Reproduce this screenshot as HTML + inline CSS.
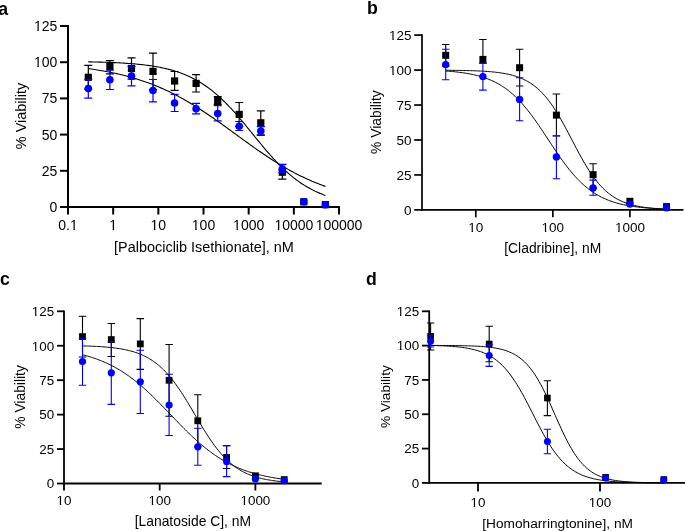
<!DOCTYPE html>
<html><head><meta charset="utf-8"><style>
html,body{margin:0;padding:0;background:#fff;width:685px;height:531px;overflow:hidden}
svg{display:block;will-change:transform}
text{font-family:"Liberation Sans",sans-serif;fill:#000}
</style></head><body>
<svg width="685" height="531" viewBox="0 0 685 531">
<g><path d="M68 25V208" stroke="#000" stroke-width="2.0"/>
<path d="M67 207H339.9" stroke="#000" stroke-width="2.0"/>
<path d="M60 207H68" stroke="#000" stroke-width="2.0"/>
<text x="57.3" y="212.04" text-anchor="end" font-size="14">0</text>
<path d="M60 170.8H68" stroke="#000" stroke-width="2.0"/>
<text x="57.3" y="175.84" text-anchor="end" font-size="14">25</text>
<path d="M60 134.6H68" stroke="#000" stroke-width="2.0"/>
<text x="57.3" y="139.64" text-anchor="end" font-size="14">50</text>
<path d="M60 98.4H68" stroke="#000" stroke-width="2.0"/>
<text x="57.3" y="103.44" text-anchor="end" font-size="14">75</text>
<path d="M60 62.2H68" stroke="#000" stroke-width="2.0"/>
<text x="57.3" y="67.24" text-anchor="end" font-size="14">100</text>
<rect x="34.16" y="65.98" width="3.22" height="2.16" fill="#fff"/>
<rect x="38.79" y="65.98" width="3.07" height="2.16" fill="#fff"/>
<path d="M60 26H68" stroke="#000" stroke-width="2.0"/>
<text x="57.3" y="31.04" text-anchor="end" font-size="14">125</text>
<rect x="34.16" y="29.78" width="3.22" height="2.16" fill="#fff"/>
<rect x="38.79" y="29.78" width="3.07" height="2.16" fill="#fff"/>
<path d="M68 207V214.5" stroke="#000" stroke-width="2.0"/>
<text x="68" y="230" text-anchor="middle" font-size="14">0.1</text>
<rect x="70.16" y="228.74" width="3.22" height="2.16" fill="#fff"/>
<rect x="74.79" y="228.74" width="3.07" height="2.16" fill="#fff"/>
<path d="M113.17 207V214.5" stroke="#000" stroke-width="2.0"/>
<text x="113.17" y="230" text-anchor="middle" font-size="14">1</text>
<rect x="109.49" y="228.74" width="3.22" height="2.16" fill="#fff"/>
<rect x="114.12" y="228.74" width="3.07" height="2.16" fill="#fff"/>
<path d="M158.34 207V214.5" stroke="#000" stroke-width="2.0"/>
<text x="158.34" y="230" text-anchor="middle" font-size="14">10</text>
<rect x="150.77" y="228.74" width="3.22" height="2.16" fill="#fff"/>
<rect x="155.40" y="228.74" width="3.07" height="2.16" fill="#fff"/>
<path d="M203.51 207V214.5" stroke="#000" stroke-width="2.0"/>
<text x="203.51" y="230" text-anchor="middle" font-size="14">100</text>
<rect x="192.04" y="228.74" width="3.22" height="2.16" fill="#fff"/>
<rect x="196.68" y="228.74" width="3.07" height="2.16" fill="#fff"/>
<path d="M248.68 207V214.5" stroke="#000" stroke-width="2.0"/>
<text x="248.68" y="230" text-anchor="middle" font-size="14">1000</text>
<rect x="233.32" y="228.74" width="3.22" height="2.16" fill="#fff"/>
<rect x="237.96" y="228.74" width="3.07" height="2.16" fill="#fff"/>
<path d="M293.85 207V214.5" stroke="#000" stroke-width="2.0"/>
<text x="293.85" y="230" text-anchor="middle" font-size="14">10000</text>
<rect x="274.60" y="228.74" width="3.22" height="2.16" fill="#fff"/>
<rect x="279.23" y="228.74" width="3.07" height="2.16" fill="#fff"/>
<path d="M339.02 207V214.5" stroke="#000" stroke-width="2.0"/>
<text x="339.02" y="230" text-anchor="middle" font-size="14">100000</text>
<rect x="315.88" y="228.74" width="3.22" height="2.16" fill="#fff"/>
<rect x="320.51" y="228.74" width="3.07" height="2.16" fill="#fff"/>
<path d="M88.3 61.85 L89.79 61.88 L91.28 61.91 L92.77 61.94 L94.26 61.97 L95.76 62.01 L97.25 62.05 L98.74 62.08 L100.23 62.12 L101.72 62.17 L103.21 62.21 L104.7 62.26 L106.19 62.31 L107.69 62.36 L109.18 62.42 L110.67 62.48 L112.16 62.54 L113.65 62.6 L115.14 62.67 L116.63 62.74 L118.12 62.81 L119.62 62.89 L121.11 62.97 L122.6 63.06 L124.09 63.15 L125.58 63.24 L127.07 63.34 L128.56 63.45 L130.05 63.55 L131.54 63.67 L133.04 63.79 L134.53 63.92 L136.02 64.05 L137.51 64.19 L139 64.34 L140.49 64.49 L141.98 64.65 L143.47 64.82 L144.97 65 L146.46 65.19 L147.95 65.38 L149.44 65.59 L150.93 65.8 L152.42 66.03 L153.91 66.27 L155.4 66.52 L156.89 66.78 L158.39 67.05 L159.88 67.33 L161.37 67.63 L162.86 67.94 L164.35 68.27 L165.84 68.61 L167.33 68.97 L168.82 69.35 L170.32 69.74 L171.81 70.15 L173.3 70.58 L174.79 71.03 L176.28 71.5 L177.77 71.99 L179.26 72.5 L180.75 73.03 L182.25 73.58 L183.74 74.16 L185.23 74.77 L186.72 75.4 L188.21 76.05 L189.7 76.73 L191.19 77.44 L192.68 78.18 L194.17 78.95 L195.67 79.75 L197.16 80.57 L198.65 81.43 L200.14 82.32 L201.63 83.25 L203.12 84.2 L204.61 85.19 L206.1 86.22 L207.6 87.28 L209.09 88.37 L210.58 89.5 L212.07 90.66 L213.56 91.86 L215.05 93.1 L216.54 94.37 L218.03 95.67 L219.53 97.02 L221.02 98.39 L222.51 99.8 L224 101.25 L225.49 102.73 L226.98 104.24 L228.47 105.78 L229.96 107.35 L231.45 108.95 L232.95 110.58 L234.44 112.24 L235.93 113.92 L237.42 115.63 L238.91 117.36 L240.4 119.1 L241.89 120.87 L243.38 122.65 L244.88 124.45 L246.37 126.26 L247.86 128.08 L249.35 129.9 L250.84 131.74 L252.33 133.57 L253.82 135.41 L255.31 137.24 L256.81 139.07 L258.3 140.9 L259.79 142.71 L261.28 144.52 L262.77 146.31 L264.26 148.08 L265.75 149.84 L267.24 151.58 L268.73 153.3 L270.23 155 L271.72 156.67 L273.21 158.32 L274.7 159.94 L276.19 161.53 L277.68 163.09 L279.17 164.62 L280.66 166.12 L282.16 167.59 L283.65 169.02 L285.14 170.42 L286.63 171.78 L288.12 173.11 L289.61 174.4 L291.1 175.66 L292.59 176.88 L294.08 178.07 L295.58 179.22 L297.07 180.34 L298.56 181.42 L300.05 182.46 L301.54 183.47 L303.03 184.45 L304.52 185.39 L306.01 186.3 L307.51 187.18 L309 188.03 L310.49 188.85 L311.98 189.63 L313.47 190.39 L314.96 191.12 L316.45 191.82 L317.94 192.49 L319.44 193.13 L320.93 193.75 L322.42 194.35 L323.91 194.92 L325.4 195.46" fill="none" stroke="#000" stroke-width="1.1"/>
<path d="M88.3 68.62 L89.79 68.82 L91.28 69.04 L92.77 69.25 L94.26 69.48 L95.76 69.71 L97.25 69.94 L98.74 70.19 L100.23 70.43 L101.72 70.69 L103.21 70.95 L104.7 71.22 L106.19 71.5 L107.69 71.78 L109.18 72.07 L110.67 72.37 L112.16 72.68 L113.65 72.99 L115.14 73.31 L116.63 73.64 L118.12 73.98 L119.62 74.33 L121.11 74.68 L122.6 75.05 L124.09 75.42 L125.58 75.8 L127.07 76.2 L128.56 76.6 L130.05 77.01 L131.54 77.43 L133.04 77.86 L134.53 78.3 L136.02 78.75 L137.51 79.21 L139 79.69 L140.49 80.17 L141.98 80.66 L143.47 81.17 L144.97 81.68 L146.46 82.21 L147.95 82.75 L149.44 83.3 L150.93 83.86 L152.42 84.44 L153.91 85.02 L155.4 85.62 L156.89 86.23 L158.39 86.85 L159.88 87.49 L161.37 88.13 L162.86 88.79 L164.35 89.46 L165.84 90.15 L167.33 90.84 L168.82 91.55 L170.32 92.28 L171.81 93.01 L173.3 93.76 L174.79 94.52 L176.28 95.29 L177.77 96.07 L179.26 96.87 L180.75 97.68 L182.25 98.5 L183.74 99.33 L185.23 100.18 L186.72 101.04 L188.21 101.91 L189.7 102.79 L191.19 103.68 L192.68 104.58 L194.17 105.5 L195.67 106.42 L197.16 107.36 L198.65 108.31 L200.14 109.27 L201.63 110.23 L203.12 111.21 L204.61 112.2 L206.1 113.19 L207.6 114.19 L209.09 115.21 L210.58 116.23 L212.07 117.25 L213.56 118.29 L215.05 119.33 L216.54 120.38 L218.03 121.43 L219.53 122.49 L221.02 123.56 L222.51 124.63 L224 125.7 L225.49 126.78 L226.98 127.86 L228.47 128.94 L229.96 130.03 L231.45 131.12 L232.95 132.21 L234.44 133.3 L235.93 134.39 L237.42 135.48 L238.91 136.57 L240.4 137.66 L241.89 138.74 L243.38 139.83 L244.88 140.91 L246.37 141.99 L247.86 143.07 L249.35 144.14 L250.84 145.21 L252.33 146.27 L253.82 147.33 L255.31 148.38 L256.81 149.43 L258.3 150.47 L259.79 151.5 L261.28 152.53 L262.77 153.55 L264.26 154.56 L265.75 155.56 L267.24 156.55 L268.73 157.53 L270.23 158.51 L271.72 159.47 L273.21 160.43 L274.7 161.37 L276.19 162.3 L277.68 163.23 L279.17 164.14 L280.66 165.04 L282.16 165.93 L283.65 166.81 L285.14 167.67 L286.63 168.53 L288.12 169.37 L289.61 170.2 L291.1 171.02 L292.59 171.82 L294.08 172.62 L295.58 173.4 L297.07 174.17 L298.56 174.92 L300.05 175.67 L301.54 176.4 L303.03 177.12 L304.52 177.82 L306.01 178.51 L307.51 179.2 L309 179.86 L310.49 180.52 L311.98 181.16 L313.47 181.79 L314.96 182.41 L316.45 183.02 L317.94 183.61 L319.44 184.2 L320.93 184.77 L322.42 185.32 L323.91 185.87 L325.4 186.41" fill="none" stroke="#000" stroke-width="1.1"/>
<path d="M88.3 65.4V89.2M84.3 65.4H92.3M84.3 89.2H92.3" stroke="#000" stroke-width="1.2" fill="none"/>
<path d="M109.9 60.7V73.9M105.9 60.7H113.9M105.9 73.9H113.9" stroke="#000" stroke-width="1.2" fill="none"/>
<path d="M131.5 57.8V79.2M127.5 57.8H135.5M127.5 79.2H135.5" stroke="#000" stroke-width="1.2" fill="none"/>
<path d="M153 53.2V89.6M149 53.2H157M149 89.6H157" stroke="#000" stroke-width="1.2" fill="none"/>
<path d="M174.6 71.5V90.3M170.6 71.5H178.6M170.6 90.3H178.6" stroke="#000" stroke-width="1.2" fill="none"/>
<path d="M196.1 74.6V92M192.1 74.6H200.1M192.1 92H200.1" stroke="#000" stroke-width="1.2" fill="none"/>
<path d="M217.7 96.6V104.4M213.7 96.6H221.7M213.7 104.4H221.7" stroke="#000" stroke-width="1.2" fill="none"/>
<path d="M239.2 102.5V126.3M235.2 102.5H243.2M235.2 126.3H243.2" stroke="#000" stroke-width="1.2" fill="none"/>
<path d="M260.8 110.8V134.8M256.8 110.8H264.8M256.8 134.8H264.8" stroke="#000" stroke-width="1.2" fill="none"/>
<path d="M282.3 164.4V179.2M278.3 164.4H286.3M278.3 179.2H286.3" stroke="#000" stroke-width="1.2" fill="none"/>
<rect x="84.7" y="73.7" width="7.2" height="7.2" fill="#000"/>
<rect x="106.3" y="63" width="7.2" height="7.2" fill="#000"/>
<rect x="127.9" y="64.9" width="7.2" height="7.2" fill="#000"/>
<rect x="149.4" y="67.8" width="7.2" height="7.2" fill="#000"/>
<rect x="171" y="77.4" width="7.2" height="7.2" fill="#000"/>
<rect x="192.5" y="79.8" width="7.2" height="7.2" fill="#000"/>
<rect x="214.1" y="96.9" width="7.2" height="7.2" fill="#000"/>
<rect x="235.6" y="110.8" width="7.2" height="7.2" fill="#000"/>
<rect x="257.2" y="119.2" width="7.2" height="7.2" fill="#000"/>
<rect x="278.7" y="168.6" width="7.2" height="7.2" fill="#000"/>
<rect x="300.2" y="198.2" width="7.2" height="7.2" fill="#000"/>
<rect x="321.8" y="201.1" width="7.2" height="7.2" fill="#000"/>
<path d="M88.3 79.3V98.1M84.3 79.3H92.3M84.3 98.1H92.3" stroke="#0000ff" stroke-width="1.2" fill="none"/>
<path d="M109.9 70.2V89.5M105.9 70.2H113.9M105.9 89.5H113.9" stroke="#0000ff" stroke-width="1.2" fill="none"/>
<path d="M131.5 66.3V85.8M127.5 66.3H135.5M127.5 85.8H135.5" stroke="#0000ff" stroke-width="1.2" fill="none"/>
<path d="M153 79.5V101.9M149 79.5H157M149 101.9H157" stroke="#0000ff" stroke-width="1.2" fill="none"/>
<path d="M174.6 94.4V111.5M170.6 94.4H178.6M170.6 111.5H178.6" stroke="#0000ff" stroke-width="1.2" fill="none"/>
<path d="M196.1 103.4V113.9M192.1 103.4H200.1M192.1 113.9H200.1" stroke="#0000ff" stroke-width="1.2" fill="none"/>
<path d="M217.7 105.6V120.8M213.7 105.6H221.7M213.7 120.8H221.7" stroke="#0000ff" stroke-width="1.2" fill="none"/>
<path d="M239.2 121.5V130.5M235.2 121.5H243.2M235.2 130.5H243.2" stroke="#0000ff" stroke-width="1.2" fill="none"/>
<path d="M260.8 126.6V135.3M256.8 126.6H264.8M256.8 135.3H264.8" stroke="#0000ff" stroke-width="1.2" fill="none"/>
<path d="M282.3 164.7V172.5M278.3 164.7H286.3M278.3 172.5H286.3" stroke="#0000ff" stroke-width="1.2" fill="none"/>
<circle cx="88.3" cy="88.5" r="3.8" fill="#0000ff"/>
<circle cx="109.9" cy="79.8" r="3.8" fill="#0000ff"/>
<circle cx="131.5" cy="76.1" r="3.8" fill="#0000ff"/>
<circle cx="153" cy="90.5" r="3.8" fill="#0000ff"/>
<circle cx="174.6" cy="103" r="3.8" fill="#0000ff"/>
<circle cx="196.1" cy="108.8" r="3.8" fill="#0000ff"/>
<circle cx="217.7" cy="113.6" r="3.8" fill="#0000ff"/>
<circle cx="239.2" cy="126.3" r="3.8" fill="#0000ff"/>
<circle cx="260.8" cy="131.1" r="3.8" fill="#0000ff"/>
<circle cx="282.3" cy="169" r="3.8" fill="#0000ff"/>
<circle cx="303.8" cy="201.8" r="3.8" fill="#0000ff"/>
<circle cx="325.4" cy="204.7" r="3.8" fill="#0000ff"/>
<text x="203.95" y="252" text-anchor="middle" font-size="14.45">[Palbociclib Isethionate], nM</text>
<text transform="translate(25.7 116) rotate(-90)" text-anchor="middle" font-size="14.45">% Viability</text>
<text x="-1.8" y="14.8" font-size="17.7" font-weight="bold">a</text></g>
<g><path d="M422 34.3V210.75" stroke="#000" stroke-width="1.7"/>
<path d="M421.15 209.9H683.5" stroke="#000" stroke-width="1.7"/>
<path d="M414.2 209.9H422" stroke="#000" stroke-width="1.7"/>
<text x="411.6" y="214.76" text-anchor="end" font-size="13.5">0</text>
<path d="M414.2 174.94H422" stroke="#000" stroke-width="1.7"/>
<text x="411.6" y="179.8" text-anchor="end" font-size="13.5">25</text>
<path d="M414.2 139.98H422" stroke="#000" stroke-width="1.7"/>
<text x="411.6" y="144.84" text-anchor="end" font-size="13.5">50</text>
<path d="M414.2 105.02H422" stroke="#000" stroke-width="1.7"/>
<text x="411.6" y="109.88" text-anchor="end" font-size="13.5">75</text>
<path d="M414.2 70.06H422" stroke="#000" stroke-width="1.7"/>
<text x="411.6" y="74.92" text-anchor="end" font-size="13.5">100</text>
<rect x="389.28" y="73.70" width="3.10" height="2.11" fill="#fff"/>
<rect x="393.75" y="73.70" width="2.96" height="2.11" fill="#fff"/>
<path d="M414.2 35.1H422" stroke="#000" stroke-width="1.7"/>
<text x="411.6" y="39.96" text-anchor="end" font-size="13.5">125</text>
<rect x="389.28" y="38.74" width="3.10" height="2.11" fill="#fff"/>
<rect x="393.75" y="38.74" width="2.96" height="2.11" fill="#fff"/>
<path d="M475.8 209.9V217.3" stroke="#000" stroke-width="1.7"/>
<text x="475.8" y="232.2" text-anchor="middle" font-size="13.5">10</text>
<rect x="468.50" y="230.98" width="3.10" height="2.11" fill="#fff"/>
<rect x="472.96" y="230.98" width="2.96" height="2.11" fill="#fff"/>
<path d="M552.85 209.9V217.3" stroke="#000" stroke-width="1.7"/>
<text x="552.85" y="232.2" text-anchor="middle" font-size="13.5">100</text>
<rect x="541.79" y="230.98" width="3.10" height="2.11" fill="#fff"/>
<rect x="546.26" y="230.98" width="2.96" height="2.11" fill="#fff"/>
<path d="M629.9 209.9V217.3" stroke="#000" stroke-width="1.7"/>
<text x="629.9" y="232.2" text-anchor="middle" font-size="13.5">1000</text>
<rect x="615.09" y="230.98" width="3.10" height="2.11" fill="#fff"/>
<rect x="619.56" y="230.98" width="2.96" height="2.11" fill="#fff"/>
<path d="M445.7 70.27 L447.09 70.28 L448.48 70.29 L449.87 70.3 L451.26 70.32 L452.65 70.33 L454.04 70.35 L455.43 70.37 L456.82 70.38 L458.21 70.4 L459.6 70.43 L460.99 70.45 L462.38 70.47 L463.77 70.5 L465.16 70.53 L466.55 70.56 L467.94 70.6 L469.33 70.63 L470.72 70.67 L472.11 70.71 L473.5 70.76 L474.89 70.81 L476.28 70.86 L477.67 70.92 L479.06 70.98 L480.45 71.05 L481.84 71.12 L483.23 71.2 L484.62 71.28 L486.01 71.37 L487.4 71.47 L488.79 71.58 L490.18 71.69 L491.57 71.81 L492.96 71.94 L494.35 72.08 L495.74 72.24 L497.13 72.4 L498.52 72.58 L499.91 72.77 L501.3 72.97 L502.69 73.19 L504.08 73.43 L505.47 73.68 L506.86 73.96 L508.25 74.25 L509.64 74.56 L511.03 74.9 L512.42 75.27 L513.81 75.66 L515.2 76.08 L516.59 76.53 L517.98 77.01 L519.37 77.52 L520.76 78.07 L522.15 78.66 L523.54 79.3 L524.93 79.97 L526.32 80.69 L527.71 81.46 L529.1 82.28 L530.49 83.15 L531.88 84.08 L533.27 85.06 L534.66 86.11 L536.05 87.22 L537.44 88.4 L538.83 89.64 L540.22 90.95 L541.61 92.34 L543 93.8 L544.39 95.34 L545.78 96.95 L547.17 98.64 L548.56 100.41 L549.95 102.25 L551.34 104.17 L552.73 106.17 L554.12 108.25 L555.51 110.4 L556.89 112.62 L558.28 114.9 L559.67 117.25 L561.06 119.66 L562.45 122.12 L563.84 124.63 L565.23 127.19 L566.62 129.77 L568.01 132.39 L569.4 135.03 L570.79 137.69 L572.18 140.35 L573.57 143.01 L574.96 145.66 L576.35 148.29 L577.74 150.91 L579.13 153.49 L580.52 156.03 L581.91 158.53 L583.3 160.98 L584.69 163.37 L586.08 165.71 L587.47 167.98 L588.86 170.18 L590.25 172.31 L591.64 174.36 L593.03 176.34 L594.42 178.25 L595.81 180.07 L597.2 181.82 L598.59 183.49 L599.98 185.09 L601.37 186.6 L602.76 188.04 L604.15 189.41 L605.54 190.71 L606.93 191.94 L608.32 193.09 L609.71 194.19 L611.1 195.22 L612.49 196.19 L613.88 197.11 L615.27 197.96 L616.66 198.77 L618.05 199.53 L619.44 200.23 L620.83 200.9 L622.22 201.52 L623.61 202.1 L625 202.64 L626.39 203.15 L627.78 203.62 L629.17 204.06 L630.56 204.47 L631.95 204.86 L633.34 205.21 L634.73 205.55 L636.12 205.86 L637.51 206.15 L638.9 206.41 L640.29 206.66 L641.68 206.9 L643.07 207.11 L644.46 207.31 L645.85 207.5 L647.24 207.67 L648.63 207.83 L650.02 207.98 L651.41 208.12 L652.8 208.25 L654.19 208.37 L655.58 208.48 L656.97 208.58 L658.36 208.68 L659.75 208.77 L661.14 208.85 L662.53 208.93 L663.92 209 L665.31 209.06 L666.7 209.13" fill="none" stroke="#000" stroke-width="1.0"/>
<path d="M445.7 70.99 L447.09 71.09 L448.48 71.2 L449.87 71.31 L451.26 71.43 L452.65 71.56 L454.04 71.69 L455.43 71.84 L456.82 71.99 L458.21 72.15 L459.6 72.32 L460.99 72.5 L462.38 72.69 L463.77 72.89 L465.16 73.1 L466.55 73.33 L467.94 73.56 L469.33 73.82 L470.72 74.08 L472.11 74.37 L473.5 74.67 L474.89 74.98 L476.28 75.32 L477.67 75.67 L479.06 76.04 L480.45 76.44 L481.84 76.85 L483.23 77.29 L484.62 77.75 L486.01 78.24 L487.4 78.76 L488.79 79.3 L490.18 79.87 L491.57 80.47 L492.96 81.1 L494.35 81.76 L495.74 82.46 L497.13 83.19 L498.52 83.96 L499.91 84.77 L501.3 85.62 L502.69 86.5 L504.08 87.43 L505.47 88.4 L506.86 89.41 L508.25 90.47 L509.64 91.57 L511.03 92.72 L512.42 93.92 L513.81 95.16 L515.2 96.45 L516.59 97.79 L517.98 99.18 L519.37 100.62 L520.76 102.11 L522.15 103.64 L523.54 105.23 L524.93 106.86 L526.32 108.54 L527.71 110.26 L529.1 112.03 L530.49 113.84 L531.88 115.69 L533.27 117.57 L534.66 119.5 L536.05 121.46 L537.44 123.44 L538.83 125.46 L540.22 127.5 L541.61 129.56 L543 131.64 L544.39 133.74 L545.78 135.84 L547.17 137.95 L548.56 140.07 L549.95 142.18 L551.34 144.29 L552.73 146.39 L554.12 148.48 L555.51 150.55 L556.89 152.6 L558.28 154.64 L559.67 156.64 L561.06 158.62 L562.45 160.56 L563.84 162.47 L565.23 164.34 L566.62 166.18 L568.01 167.97 L569.4 169.72 L570.79 171.42 L572.18 173.08 L573.57 174.69 L574.96 176.26 L576.35 177.77 L577.74 179.24 L579.13 180.66 L580.52 182.03 L581.91 183.35 L583.3 184.62 L584.69 185.84 L586.08 187.02 L587.47 188.15 L588.86 189.23 L590.25 190.27 L591.64 191.27 L593.03 192.22 L594.42 193.13 L595.81 194 L597.2 194.83 L598.59 195.62 L599.98 196.37 L601.37 197.09 L602.76 197.77 L604.15 198.42 L605.54 199.04 L606.93 199.63 L608.32 200.19 L609.71 200.72 L611.1 201.22 L612.49 201.7 L613.88 202.15 L615.27 202.58 L616.66 202.99 L618.05 203.37 L619.44 203.74 L620.83 204.08 L622.22 204.41 L623.61 204.72 L625 205.01 L626.39 205.29 L627.78 205.55 L629.17 205.79 L630.56 206.03 L631.95 206.25 L633.34 206.46 L634.73 206.65 L636.12 206.84 L637.51 207.01 L638.9 207.18 L640.29 207.33 L641.68 207.48 L643.07 207.62 L644.46 207.75 L645.85 207.88 L647.24 207.99 L648.63 208.1 L650.02 208.21 L651.41 208.3 L652.8 208.4 L654.19 208.48 L655.58 208.56 L656.97 208.64 L658.36 208.72 L659.75 208.78 L661.14 208.85 L662.53 208.91 L663.92 208.97 L665.31 209.02 L666.7 209.07" fill="none" stroke="#000" stroke-width="1.0"/>
<path d="M445.7 44.5V66.1M441.95 44.5H449.45M441.95 66.1H449.45" stroke="#000" stroke-width="1.1" fill="none"/>
<path d="M482.9 39.5V63.2M479.15 39.5H486.65M479.15 63.2H486.65" stroke="#000" stroke-width="1.1" fill="none"/>
<path d="M519.6 49.3V86M515.85 49.3H523.35M515.85 86H523.35" stroke="#000" stroke-width="1.1" fill="none"/>
<path d="M556.4 94V136M552.65 94H560.15M552.65 136H560.15" stroke="#000" stroke-width="1.1" fill="none"/>
<path d="M593.1 163.8V188M589.35 163.8H596.85M589.35 188H596.85" stroke="#000" stroke-width="1.1" fill="none"/>
<rect x="442.2" y="51.8" width="7" height="7" fill="#000"/>
<rect x="479.4" y="55.9" width="7" height="7" fill="#000"/>
<rect x="516.1" y="64.2" width="7" height="7" fill="#000"/>
<rect x="552.9" y="111.6" width="7" height="7" fill="#000"/>
<rect x="589.6" y="171.2" width="7" height="7" fill="#000"/>
<rect x="626.4" y="197.8" width="7" height="7" fill="#000"/>
<rect x="663" y="203.1" width="7" height="7" fill="#000"/>
<path d="M445.7 49.3V79.7M441.95 49.3H449.45M441.95 79.7H449.45" stroke="#0000ff" stroke-width="1.1" fill="none"/>
<path d="M482.9 63.2V90.1M479.15 63.2H486.65M479.15 90.1H486.65" stroke="#0000ff" stroke-width="1.1" fill="none"/>
<path d="M519.6 77.7V120.8M515.85 77.7H523.35M515.85 120.8H523.35" stroke="#0000ff" stroke-width="1.1" fill="none"/>
<path d="M556.4 135.8V178.7M552.65 135.8H560.15M552.65 178.7H560.15" stroke="#0000ff" stroke-width="1.1" fill="none"/>
<path d="M593.1 180.1V195.2M589.35 180.1H596.85M589.35 195.2H596.85" stroke="#0000ff" stroke-width="1.1" fill="none"/>
<circle cx="445.7" cy="64.6" r="3.7" fill="#0000ff"/>
<circle cx="482.9" cy="76.6" r="3.7" fill="#0000ff"/>
<circle cx="519.6" cy="99.4" r="3.7" fill="#0000ff"/>
<circle cx="556.4" cy="156.9" r="3.7" fill="#0000ff"/>
<circle cx="593.1" cy="188" r="3.7" fill="#0000ff"/>
<circle cx="629.9" cy="204" r="3.7" fill="#0000ff"/>
<circle cx="666.5" cy="207.8" r="3.7" fill="#0000ff"/>
<text x="552.75" y="252.9" text-anchor="middle" font-size="13.85">[Cladribine], nM</text>
<text transform="translate(380.8 122.1) rotate(-90)" text-anchor="middle" font-size="13.85">% Viability</text>
<text x="367" y="14.3" font-size="17.7" font-weight="bold">b</text></g>
<g><path d="M64 310.4V484.4" stroke="#000" stroke-width="1.8"/>
<path d="M63.1 483.5H321.7" stroke="#000" stroke-width="1.8"/>
<path d="M57 483.5H64" stroke="#000" stroke-width="1.8"/>
<text x="54.2" y="488.32" text-anchor="end" font-size="13.4">0</text>
<path d="M57 449.06H64" stroke="#000" stroke-width="1.8"/>
<text x="54.2" y="453.88" text-anchor="end" font-size="13.4">25</text>
<path d="M57 414.62H64" stroke="#000" stroke-width="1.8"/>
<text x="54.2" y="419.44" text-anchor="end" font-size="13.4">50</text>
<path d="M57 380.18H64" stroke="#000" stroke-width="1.8"/>
<text x="54.2" y="385" text-anchor="end" font-size="13.4">75</text>
<path d="M57 345.74H64" stroke="#000" stroke-width="1.8"/>
<text x="54.2" y="350.56" text-anchor="end" font-size="13.4">100</text>
<rect x="32.05" y="349.36" width="3.08" height="2.11" fill="#fff"/>
<rect x="36.49" y="349.36" width="2.93" height="2.11" fill="#fff"/>
<path d="M57 311.3H64" stroke="#000" stroke-width="1.8"/>
<text x="54.2" y="316.12" text-anchor="end" font-size="13.4">125</text>
<rect x="32.05" y="314.92" width="3.08" height="2.11" fill="#fff"/>
<rect x="36.49" y="314.92" width="2.93" height="2.11" fill="#fff"/>
<path d="M64 483.5V490.5" stroke="#000" stroke-width="1.8"/>
<text x="64" y="505" text-anchor="middle" font-size="13.4">10</text>
<rect x="56.75" y="503.79" width="3.08" height="2.11" fill="#fff"/>
<rect x="61.19" y="503.79" width="2.93" height="2.11" fill="#fff"/>
<path d="M159.7 483.5V490.5" stroke="#000" stroke-width="1.8"/>
<text x="159.7" y="505" text-anchor="middle" font-size="13.4">100</text>
<rect x="148.73" y="503.79" width="3.08" height="2.11" fill="#fff"/>
<rect x="153.16" y="503.79" width="2.93" height="2.11" fill="#fff"/>
<path d="M255.4 483.5V490.5" stroke="#000" stroke-width="1.8"/>
<text x="255.4" y="505" text-anchor="middle" font-size="13.4">1000</text>
<rect x="240.70" y="503.79" width="3.08" height="2.11" fill="#fff"/>
<rect x="245.14" y="503.79" width="2.93" height="2.11" fill="#fff"/>
<path d="M82.5 345.89 L83.77 345.93 L85.04 345.97 L86.31 346.01 L87.57 346.05 L88.84 346.09 L90.11 346.14 L91.38 346.19 L92.65 346.25 L93.92 346.3 L95.19 346.37 L96.45 346.43 L97.72 346.5 L98.99 346.57 L100.26 346.65 L101.53 346.74 L102.8 346.82 L104.07 346.92 L105.33 347.02 L106.6 347.12 L107.87 347.24 L109.14 347.36 L110.41 347.49 L111.68 347.62 L112.95 347.77 L114.21 347.92 L115.48 348.08 L116.75 348.25 L118.02 348.44 L119.29 348.63 L120.56 348.84 L121.83 349.06 L123.09 349.29 L124.36 349.53 L125.63 349.79 L126.9 350.07 L128.17 350.36 L129.44 350.68 L130.71 351 L131.97 351.35 L133.24 351.72 L134.51 352.11 L135.78 352.53 L137.05 352.96 L138.32 353.42 L139.58 353.91 L140.85 354.43 L142.12 354.97 L143.39 355.55 L144.66 356.15 L145.93 356.79 L147.2 357.46 L148.46 358.17 L149.73 358.91 L151 359.7 L152.27 360.52 L153.54 361.38 L154.81 362.29 L156.08 363.24 L157.34 364.23 L158.61 365.27 L159.88 366.36 L161.15 367.5 L162.42 368.68 L163.69 369.92 L164.96 371.2 L166.22 372.54 L167.49 373.93 L168.76 375.37 L170.03 376.86 L171.3 378.41 L172.57 380 L173.84 381.65 L175.1 383.34 L176.37 385.08 L177.64 386.87 L178.91 388.71 L180.18 390.59 L181.45 392.5 L182.72 394.46 L183.98 396.45 L185.25 398.48 L186.52 400.53 L187.79 402.61 L189.06 404.72 L190.33 406.84 L191.6 408.97 L192.86 411.12 L194.13 413.27 L195.4 415.43 L196.67 417.58 L197.94 419.73 L199.21 421.86 L200.48 423.99 L201.74 426.09 L203.01 428.17 L204.28 430.23 L205.55 432.26 L206.82 434.25 L208.09 436.21 L209.36 438.13 L210.62 440.01 L211.89 441.85 L213.16 443.64 L214.43 445.39 L215.7 447.09 L216.97 448.73 L218.24 450.33 L219.5 451.88 L220.77 453.38 L222.04 454.82 L223.31 456.21 L224.58 457.55 L225.85 458.84 L227.12 460.08 L228.38 461.27 L229.65 462.41 L230.92 463.5 L232.19 464.54 L233.46 465.54 L234.73 466.49 L235.99 467.4 L237.26 468.27 L238.53 469.09 L239.8 469.88 L241.07 470.63 L242.34 471.34 L243.61 472.01 L244.87 472.65 L246.14 473.26 L247.41 473.84 L248.68 474.38 L249.95 474.9 L251.22 475.39 L252.49 475.85 L253.75 476.29 L255.02 476.71 L256.29 477.1 L257.56 477.47 L258.83 477.82 L260.1 478.15 L261.37 478.46 L262.63 478.75 L263.9 479.03 L265.17 479.29 L266.44 479.54 L267.71 479.77 L268.98 479.99 L270.25 480.2 L271.51 480.4 L272.78 480.58 L274.05 480.75 L275.32 480.92 L276.59 481.07 L277.86 481.21 L279.13 481.35 L280.39 481.48 L281.66 481.6 L282.93 481.71 L284.2 481.82" fill="none" stroke="#000" stroke-width="1.0"/>
<path d="M82.5 354.77 L83.77 355.09 L85.04 355.43 L86.31 355.78 L87.57 356.13 L88.84 356.5 L90.11 356.89 L91.38 357.28 L92.65 357.69 L93.92 358.11 L95.19 358.55 L96.45 358.99 L97.72 359.46 L98.99 359.93 L100.26 360.43 L101.53 360.93 L102.8 361.46 L104.07 362 L105.33 362.55 L106.6 363.12 L107.87 363.71 L109.14 364.32 L110.41 364.94 L111.68 365.58 L112.95 366.24 L114.21 366.91 L115.48 367.61 L116.75 368.32 L118.02 369.05 L119.29 369.8 L120.56 370.57 L121.83 371.36 L123.09 372.17 L124.36 373 L125.63 373.85 L126.9 374.71 L128.17 375.6 L129.44 376.51 L130.71 377.44 L131.97 378.38 L133.24 379.35 L134.51 380.33 L135.78 381.34 L137.05 382.36 L138.32 383.4 L139.58 384.46 L140.85 385.54 L142.12 386.63 L143.39 387.75 L144.66 388.88 L145.93 390.03 L147.2 391.19 L148.46 392.37 L149.73 393.56 L151 394.77 L152.27 395.99 L153.54 397.22 L154.81 398.47 L156.08 399.73 L157.34 400.99 L158.61 402.27 L159.88 403.56 L161.15 404.85 L162.42 406.15 L163.69 407.46 L164.96 408.78 L166.22 410.09 L167.49 411.42 L168.76 412.74 L170.03 414.07 L171.3 415.39 L172.57 416.72 L173.84 418.04 L175.1 419.36 L176.37 420.68 L177.64 421.99 L178.91 423.3 L180.18 424.6 L181.45 425.9 L182.72 427.18 L183.98 428.46 L185.25 429.73 L186.52 430.99 L187.79 432.23 L189.06 433.47 L190.33 434.69 L191.6 435.89 L192.86 437.09 L194.13 438.27 L195.4 439.43 L196.67 440.57 L197.94 441.7 L199.21 442.82 L200.48 443.91 L201.74 444.99 L203.01 446.05 L204.28 447.09 L205.55 448.12 L206.82 449.12 L208.09 450.1 L209.36 451.07 L210.62 452.01 L211.89 452.94 L213.16 453.85 L214.43 454.73 L215.7 455.6 L216.97 456.45 L218.24 457.28 L219.5 458.09 L220.77 458.87 L222.04 459.64 L223.31 460.4 L224.58 461.13 L225.85 461.84 L227.12 462.53 L228.38 463.21 L229.65 463.87 L230.92 464.51 L232.19 465.13 L233.46 465.74 L234.73 466.32 L235.99 466.89 L237.26 467.45 L238.53 467.99 L239.8 468.51 L241.07 469.02 L242.34 469.51 L243.61 469.99 L244.87 470.45 L246.14 470.9 L247.41 471.33 L248.68 471.75 L249.95 472.16 L251.22 472.56 L252.49 472.94 L253.75 473.31 L255.02 473.67 L256.29 474.01 L257.56 474.35 L258.83 474.67 L260.1 474.98 L261.37 475.29 L262.63 475.58 L263.9 475.86 L265.17 476.14 L266.44 476.4 L267.71 476.65 L268.98 476.9 L270.25 477.14 L271.51 477.37 L272.78 477.59 L274.05 477.81 L275.32 478.01 L276.59 478.21 L277.86 478.4 L279.13 478.59 L280.39 478.77 L281.66 478.94 L282.93 479.11 L284.2 479.27" fill="none" stroke="#000" stroke-width="1.0"/>
<path d="M82.5 316.3V357M78.75 316.3H86.25M78.75 357H86.25" stroke="#000" stroke-width="1.1" fill="none"/>
<path d="M111.3 323.5V356.5M107.55 323.5H115.05M107.55 356.5H115.05" stroke="#000" stroke-width="1.1" fill="none"/>
<path d="M140.3 318.6V369.4M136.55 318.6H144.05M136.55 369.4H144.05" stroke="#000" stroke-width="1.1" fill="none"/>
<path d="M169.1 344.5V416.2M165.35 344.5H172.85M165.35 416.2H172.85" stroke="#000" stroke-width="1.1" fill="none"/>
<path d="M197.8 394.8V446.8M194.05 394.8H201.55M194.05 446.8H201.55" stroke="#000" stroke-width="1.1" fill="none"/>
<path d="M226.6 445.6V468.5M222.85 445.6H230.35M222.85 468.5H230.35" stroke="#000" stroke-width="1.1" fill="none"/>
<rect x="79.1" y="333.2" width="6.8" height="6.8" fill="#000"/>
<rect x="107.9" y="336.2" width="6.8" height="6.8" fill="#000"/>
<rect x="136.9" y="340.5" width="6.8" height="6.8" fill="#000"/>
<rect x="165.7" y="376.9" width="6.8" height="6.8" fill="#000"/>
<rect x="194.4" y="417.4" width="6.8" height="6.8" fill="#000"/>
<rect x="223.2" y="454" width="6.8" height="6.8" fill="#000"/>
<rect x="252" y="472.4" width="6.8" height="6.8" fill="#000"/>
<rect x="280.8" y="476.2" width="6.8" height="6.8" fill="#000"/>
<path d="M82.5 338.2V385.2M78.75 338.2H86.25M78.75 385.2H86.25" stroke="#0000ff" stroke-width="1.1" fill="none"/>
<path d="M111.3 341.2V404.4M107.55 341.2H115.05M107.55 404.4H115.05" stroke="#0000ff" stroke-width="1.1" fill="none"/>
<path d="M140.3 350.2V413.5M136.55 350.2H144.05M136.55 413.5H144.05" stroke="#0000ff" stroke-width="1.1" fill="none"/>
<path d="M169.1 374.2V435.5M165.35 374.2H172.85M165.35 435.5H172.85" stroke="#0000ff" stroke-width="1.1" fill="none"/>
<path d="M197.8 428.3V465.3M194.05 428.3H201.55M194.05 465.3H201.55" stroke="#0000ff" stroke-width="1.1" fill="none"/>
<path d="M226.6 445.6V476.6M222.85 445.6H230.35M222.85 476.6H230.35" stroke="#0000ff" stroke-width="1.1" fill="none"/>
<circle cx="82.5" cy="361.5" r="3.6" fill="#0000ff"/>
<circle cx="111.3" cy="372.8" r="3.6" fill="#0000ff"/>
<circle cx="140.3" cy="381.8" r="3.6" fill="#0000ff"/>
<circle cx="169.1" cy="405" r="3.6" fill="#0000ff"/>
<circle cx="197.8" cy="446.8" r="3.6" fill="#0000ff"/>
<circle cx="226.6" cy="461.4" r="3.6" fill="#0000ff"/>
<circle cx="255.4" cy="478.9" r="3.6" fill="#0000ff"/>
<circle cx="284.2" cy="480.7" r="3.6" fill="#0000ff"/>
<text x="192.85" y="525.6" text-anchor="middle" font-size="13.87">[Lanatoside C], nM</text>
<text transform="translate(25 396.95) rotate(-90)" text-anchor="middle" font-size="13.87">% Viability</text>
<text x="0" y="284.8" font-size="17.7" font-weight="bold">c</text></g>
<g><path d="M429.2 310.4V483.8" stroke="#000" stroke-width="1.8"/>
<path d="M428.3 482.9H686" stroke="#000" stroke-width="1.8"/>
<path d="M421.9 482.9H429.2" stroke="#000" stroke-width="1.8"/>
<text x="419.1" y="487.72" text-anchor="end" font-size="13.4">0</text>
<path d="M421.9 448.58H429.2" stroke="#000" stroke-width="1.8"/>
<text x="419.1" y="453.4" text-anchor="end" font-size="13.4">25</text>
<path d="M421.9 414.26H429.2" stroke="#000" stroke-width="1.8"/>
<text x="419.1" y="419.08" text-anchor="end" font-size="13.4">50</text>
<path d="M421.9 379.94H429.2" stroke="#000" stroke-width="1.8"/>
<text x="419.1" y="384.76" text-anchor="end" font-size="13.4">75</text>
<path d="M421.9 345.62H429.2" stroke="#000" stroke-width="1.8"/>
<text x="419.1" y="350.44" text-anchor="end" font-size="13.4">100</text>
<rect x="396.95" y="349.24" width="3.08" height="2.11" fill="#fff"/>
<rect x="401.39" y="349.24" width="2.93" height="2.11" fill="#fff"/>
<path d="M421.9 311.3H429.2" stroke="#000" stroke-width="1.8"/>
<text x="419.1" y="316.12" text-anchor="end" font-size="13.4">125</text>
<rect x="396.95" y="314.92" width="3.08" height="2.11" fill="#fff"/>
<rect x="401.39" y="314.92" width="2.93" height="2.11" fill="#fff"/>
<path d="M478 482.9V491.4" stroke="#000" stroke-width="1.8"/>
<text x="478" y="506.5" text-anchor="middle" font-size="13.4">10</text>
<rect x="470.75" y="505.29" width="3.08" height="2.11" fill="#fff"/>
<rect x="475.19" y="505.29" width="2.93" height="2.11" fill="#fff"/>
<path d="M600 482.9V491.4" stroke="#000" stroke-width="1.8"/>
<text x="600" y="506.5" text-anchor="middle" font-size="13.4">100</text>
<rect x="589.03" y="505.29" width="3.08" height="2.11" fill="#fff"/>
<rect x="593.46" y="505.29" width="2.93" height="2.11" fill="#fff"/>
<path d="M430.6 345.43 L432.07 345.43 L433.53 345.44 L435 345.44 L436.47 345.45 L437.93 345.45 L439.4 345.46 L440.87 345.47 L442.33 345.47 L443.8 345.48 L445.27 345.49 L446.73 345.5 L448.2 345.51 L449.67 345.53 L451.13 345.54 L452.6 345.55 L454.07 345.57 L455.53 345.59 L457 345.61 L458.47 345.63 L459.93 345.65 L461.4 345.68 L462.87 345.71 L464.33 345.74 L465.8 345.78 L467.27 345.82 L468.73 345.86 L470.2 345.91 L471.67 345.96 L473.13 346.02 L474.6 346.08 L476.07 346.15 L477.53 346.23 L479 346.31 L480.47 346.4 L481.93 346.5 L483.4 346.62 L484.87 346.74 L486.33 346.87 L487.8 347.02 L489.27 347.19 L490.73 347.37 L492.2 347.57 L493.67 347.78 L495.13 348.02 L496.6 348.28 L498.07 348.57 L499.53 348.89 L501 349.23 L502.47 349.61 L503.93 350.03 L505.4 350.48 L506.87 350.98 L508.33 351.52 L509.8 352.11 L511.27 352.76 L512.73 353.47 L514.2 354.24 L515.67 355.07 L517.13 355.98 L518.6 356.97 L520.07 358.04 L521.53 359.2 L523 360.45 L524.47 361.8 L525.93 363.25 L527.4 364.82 L528.87 366.49 L530.33 368.28 L531.8 370.19 L533.27 372.22 L534.73 374.38 L536.2 376.66 L537.67 379.06 L539.13 381.59 L540.6 384.23 L542.07 386.99 L543.53 389.85 L545 392.82 L546.47 395.88 L547.93 399.01 L549.4 402.21 L550.87 405.47 L552.33 408.77 L553.8 412.09 L555.27 415.42 L556.73 418.75 L558.2 422.06 L559.67 425.32 L561.13 428.54 L562.6 431.69 L564.07 434.77 L565.53 437.76 L567 440.65 L568.47 443.43 L569.93 446.1 L571.4 448.65 L572.87 451.09 L574.33 453.4 L575.8 455.58 L577.27 457.64 L578.73 459.58 L580.2 461.4 L581.67 463.1 L583.13 464.69 L584.6 466.16 L586.07 467.54 L587.53 468.81 L589 469.99 L590.47 471.08 L591.93 472.09 L593.4 473.01 L594.87 473.87 L596.33 474.65 L597.8 475.37 L599.27 476.03 L600.73 476.64 L602.2 477.19 L603.67 477.7 L605.13 478.17 L606.6 478.59 L608.07 478.98 L609.53 479.33 L611 479.65 L612.47 479.95 L613.93 480.21 L615.4 480.46 L616.87 480.68 L618.33 480.88 L619.8 481.07 L621.27 481.23 L622.73 481.38 L624.2 481.52 L625.67 481.65 L627.13 481.76 L628.6 481.87 L630.07 481.96 L631.53 482.05 L633 482.13 L634.47 482.2 L635.93 482.26 L637.4 482.32 L638.87 482.37 L640.33 482.42 L641.8 482.47 L643.27 482.51 L644.73 482.54 L646.2 482.58 L647.67 482.61 L649.13 482.63 L650.6 482.66 L652.07 482.68 L653.53 482.7 L655 482.72 L656.47 482.74 L657.93 482.75 L659.4 482.76 L660.87 482.78 L662.33 482.79 L663.8 482.8" fill="none" stroke="#000" stroke-width="1.0"/>
<path d="M430.6 345.43 L432.07 345.47 L433.53 345.5 L435 345.55 L436.47 345.59 L437.93 345.64 L439.4 345.69 L440.87 345.75 L442.33 345.81 L443.8 345.88 L445.27 345.95 L446.73 346.03 L448.2 346.11 L449.67 346.21 L451.13 346.31 L452.6 346.42 L454.07 346.54 L455.53 346.67 L457 346.81 L458.47 346.96 L459.93 347.13 L461.4 347.31 L462.87 347.5 L464.33 347.71 L465.8 347.94 L467.27 348.19 L468.73 348.46 L470.2 348.75 L471.67 349.07 L473.13 349.41 L474.6 349.78 L476.07 350.18 L477.53 350.61 L479 351.08 L480.47 351.58 L481.93 352.12 L483.4 352.71 L484.87 353.34 L486.33 354.02 L487.8 354.75 L489.27 355.53 L490.73 356.38 L492.2 357.28 L493.67 358.25 L495.13 359.29 L496.6 360.4 L498.07 361.58 L499.53 362.84 L501 364.18 L502.47 365.6 L503.93 367.12 L505.4 368.72 L506.87 370.41 L508.33 372.19 L509.8 374.06 L511.27 376.03 L512.73 378.1 L514.2 380.25 L515.67 382.49 L517.13 384.82 L518.6 387.24 L520.07 389.74 L521.53 392.31 L523 394.94 L524.47 397.64 L525.93 400.4 L527.4 403.2 L528.87 406.04 L530.33 408.9 L531.8 411.78 L533.27 414.68 L534.73 417.56 L536.2 420.44 L537.67 423.29 L539.13 426.11 L540.6 428.89 L542.07 431.62 L543.53 434.29 L545 436.9 L546.47 439.43 L547.93 441.89 L549.4 444.26 L550.87 446.55 L552.33 448.75 L553.8 450.86 L555.27 452.88 L556.73 454.8 L558.2 456.63 L559.67 458.37 L561.13 460.01 L562.6 461.57 L564.07 463.04 L565.53 464.42 L567 465.73 L568.47 466.95 L569.93 468.09 L571.4 469.17 L572.87 470.17 L574.33 471.11 L575.8 471.98 L577.27 472.79 L578.73 473.55 L580.2 474.26 L581.67 474.91 L583.13 475.52 L584.6 476.08 L586.07 476.61 L587.53 477.09 L589 477.54 L590.47 477.96 L591.93 478.34 L593.4 478.7 L594.87 479.03 L596.33 479.33 L597.8 479.61 L599.27 479.87 L600.73 480.11 L602.2 480.33 L603.67 480.53 L605.13 480.72 L606.6 480.89 L608.07 481.05 L609.53 481.2 L611 481.33 L612.47 481.46 L613.93 481.57 L615.4 481.68 L616.87 481.78 L618.33 481.87 L619.8 481.95 L621.27 482.02 L622.73 482.09 L624.2 482.16 L625.67 482.22 L627.13 482.27 L628.6 482.32 L630.07 482.37 L631.53 482.41 L633 482.45 L634.47 482.49 L635.93 482.52 L637.4 482.55 L638.87 482.58 L640.33 482.6 L641.8 482.63 L643.27 482.65 L644.73 482.67 L646.2 482.69 L647.67 482.71 L649.13 482.72 L650.6 482.74 L652.07 482.75 L653.53 482.76 L655 482.77 L656.47 482.78 L657.93 482.79 L659.4 482.8 L660.87 482.81 L662.33 482.82 L663.8 482.82" fill="none" stroke="#000" stroke-width="1.0"/>
<path d="M430.6 323V350M426.95 323H434.25M426.95 350H434.25" stroke="#000" stroke-width="1.1" fill="none"/>
<path d="M489.2 326.2V361.7M485.55 326.2H492.85M485.55 361.7H492.85" stroke="#000" stroke-width="1.1" fill="none"/>
<path d="M547.4 380.8V415.6M543.75 380.8H551.05M543.75 415.6H551.05" stroke="#000" stroke-width="1.1" fill="none"/>
<rect x="427.3" y="333" width="6.6" height="6.6" fill="#000"/>
<rect x="485.9" y="340.7" width="6.6" height="6.6" fill="#000"/>
<rect x="544.1" y="394.7" width="6.6" height="6.6" fill="#000"/>
<rect x="602.3" y="474" width="6.6" height="6.6" fill="#000"/>
<rect x="660.5" y="476.2" width="6.6" height="6.6" fill="#000"/>
<path d="M430.6 335.2V347M426.95 335.2H434.25M426.95 347H434.25" stroke="#0000ff" stroke-width="1.1" fill="none"/>
<path d="M489.2 344.4V366.4M485.55 344.4H492.85M485.55 366.4H492.85" stroke="#0000ff" stroke-width="1.1" fill="none"/>
<path d="M547.4 429.3V453.8M543.75 429.3H551.05M543.75 453.8H551.05" stroke="#0000ff" stroke-width="1.1" fill="none"/>
<circle cx="430.6" cy="341.2" r="3.5" fill="#0000ff"/>
<circle cx="489.2" cy="355.4" r="3.5" fill="#0000ff"/>
<circle cx="547.4" cy="441.6" r="3.5" fill="#0000ff"/>
<circle cx="605.6" cy="478" r="3.5" fill="#0000ff"/>
<circle cx="663.8" cy="480.1" r="3.5" fill="#0000ff"/>
<text x="557.6" y="527.7" text-anchor="middle" font-size="13.7">[Homoharringtonine], nM</text>
<text transform="translate(389.8 396.65) rotate(-90)" text-anchor="middle" font-size="13.7">% Viability</text>
<text x="366" y="284.6" font-size="17.7" font-weight="bold">d</text></g>
</svg>
</body></html>
